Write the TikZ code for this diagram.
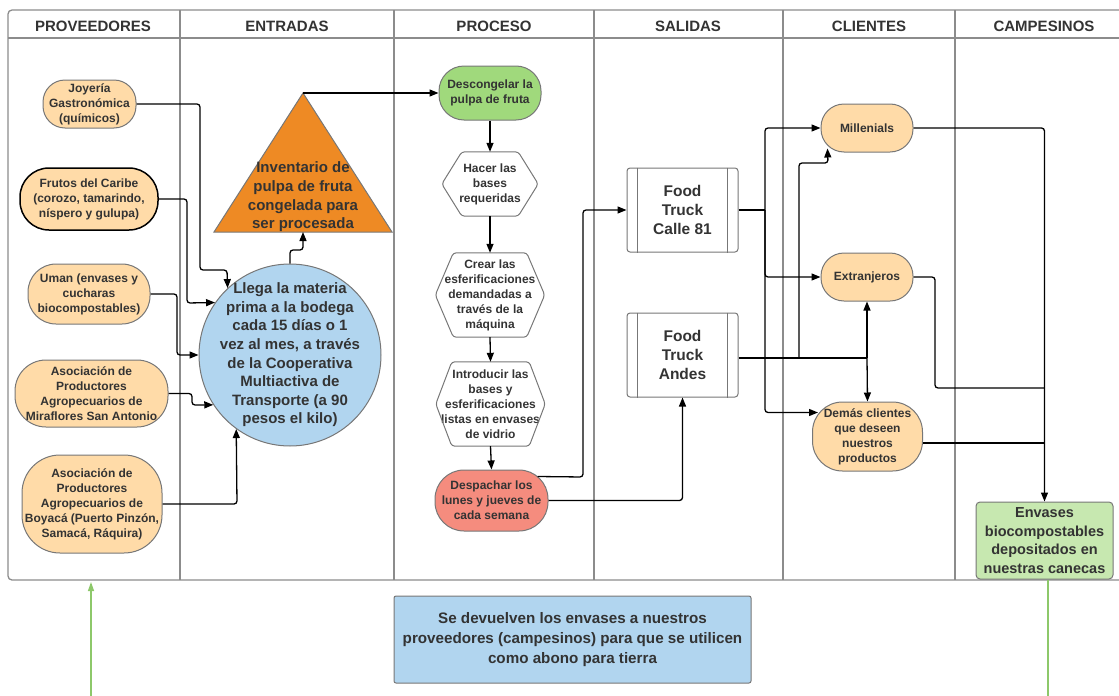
\documentclass[tikz,border=0pt]{standalone}
\usepackage{fontspec}
\setmainfont{Liberation Sans}
\usetikzlibrary{arrows.meta,calc}
\definecolor{txt}{HTML}{333333}
\definecolor{lanegray}{HTML}{8C8C8C}
\definecolor{bordgray}{HTML}{777777}
\definecolor{lorange}{HTML}{FFDBA8}
\definecolor{dorange}{HTML}{EE8A24}
\definecolor{lblue}{HTML}{B1D5EF}
\definecolor{dgreen}{HTML}{A0D97C}
\definecolor{lgreen}{HTML}{C7E8B0}
\definecolor{salmon}{HTML}{F58C7E}
\definecolor{gline}{HTML}{8DC86A}
\tikzset{
  lane/.style={draw=lanegray, line width=1.3pt},
  head/.style={font=\bfseries\fontsize{15}{16}\selectfont, text=txt},
  stad/.style={draw=bordgray, line width=1pt, fill=lorange, align=center,
    font=\bfseries\fontsize{12}{15}\selectfont, text=txt, inner sep=0pt},
  big/.style={align=center, font=\bfseries\fontsize{15}{18.6}\selectfont, text=txt, inner sep=0pt},
  hexbox/.style={align=center, font=\bfseries\fontsize{12}{15}\selectfont, text=txt, inner sep=0pt, draw=none},
  hexline/.style={draw=bordgray, line width=1pt, rounded corners=3pt},
  procbox/.style={draw=bordgray, line width=1pt, rounded corners=3pt, align=center,
    font=\bfseries\fontsize{15.5}{18.6}\selectfont, text=txt, inner sep=0pt,
    minimum width=111pt, minimum height=84pt},
  conn/.style={draw=black, line width=1.3pt, rounded corners=3pt, -{Triangle[length=9pt,width=7pt]}},
  plain/.style={draw=black, line width=1.3pt, rounded corners=3pt},
  garrow/.style={draw=gline, line width=1.3pt, -{Triangle[length=9pt,width=6pt]}},
}
\begin{document}
\begin{tikzpicture}[x=1pt,y=-1pt]
\useasboundingbox (0,0) rectangle (1119,696);
% swimlanes
\draw[lane, rounded corners=4pt] (1125,10) -- (8,10) -- (8,580) -- (1125,580);
\draw[lane] (8,38) -- (1125,38);
\foreach \xx in {180,394,594,783,955} \draw[lane] (\xx,10) -- (\xx,580);
\node[head] (h1) at (93,26) {PROVEEDORES};
\node[head] (h2) at (287,26) {ENTRADAS};
\node[head] (h3) at (494,26) {PROCESO};
\node[head] (h4) at (688,26) {SALIDAS};
\node[head] (h5) at (869,26) {CLIENTES};
\node[head] (h6) at (1044,26) {CAMPESINOS};

% proveedores
\node[stad, minimum width=93pt, minimum height=48pt, rounded corners=22pt] (joy) at (89.5,104) {Joyería\\Gastronómica\\(químicos)};
\node[stad, draw=black, line width=1.5pt, minimum width=138pt, minimum height=62pt, rounded corners=29pt] (fru) at (89,199) {Frutos del Caribe\\(corozo, tamarindo,\\níspero y gulupa)};
\node[stad, minimum width=122pt, minimum height=60pt, rounded corners=28pt] (uman) at (89,294) {Uman (envases y\\cucharas\\biocompostables)};
\node[stad, minimum width=153pt, minimum height=67pt, rounded corners=31pt] (mir) at (91.5,393.5) {Asociación de\\Productores\\Agropecuarios de\\Miraflores San Antonio};
\node[stad, minimum width=140pt, minimum height=98pt, rounded corners=38pt] (boy) at (92,504) {Asociación de\\Productores\\Agropecuarios de\\Boyacá (Puerto Pinzón,\\Samacá, Ráquira)};

% entradas
\draw[draw=bordgray, line width=1pt, fill=dorange] (303,93) -- (392,232) -- (214,232) -- cycle;
\coordinate (triapex) at (303,93);
\coordinate (tribase) at (303,232);
\node[big] (tri) at (303,197) {Inventario de\\pulpa de fruta\\congelada para\\ser procesada};
\node[circle, draw=bordgray, line width=1pt, fill=lblue, minimum size=182pt, inner sep=0pt] (circ) at (290,355) {};
\node[big] (circtext) at (290,355) {Llega la materia\\prima a la bodega\\cada 15 días o 1\\vez al mes, a través\\de la Cooperativa\\Multiactiva de\\Transporte (a 90\\pesos el kilo)};

% proceso
\node[stad, fill=dgreen, minimum width=102pt, minimum height=54pt, rounded corners=25pt] (desc) at (490,93) {Descongelar la\\pulpa de fruta};
\node[hexbox, minimum width=96pt, minimum height=64pt] (hacer) at (490,184) {Hacer las\\bases\\requeridas};
\draw[hexline] (hacer.west) -- ($(hacer.north west)+(20,0)$) -- ($(hacer.north east)+(-20,0)$) -- (hacer.east) -- ($(hacer.south east)+(-20,0)$) -- ($(hacer.south west)+(20,0)$) -- cycle;
\node[hexbox, minimum width=109pt, minimum height=84pt] (crear) at (490,295) {Crear las\\esferificaciones\\demandadas a\\través de la\\máquina};
\draw[hexline] (crear.west) -- ($(crear.north west)+(18,0)$) -- ($(crear.north east)+(-18,0)$) -- (crear.east) -- ($(crear.south east)+(-18,0)$) -- ($(crear.south west)+(18,0)$) -- cycle;
\node[hexbox, minimum width=109pt, minimum height=84pt] (intro) at (490.5,404) {Introducir las\\bases y\\esferificaciones\\listas en envases\\de vidrio};
\draw[hexline] (intro.west) -- ($(intro.north west)+(16,0)$) -- ($(intro.north east)+(-16,0)$) -- (intro.east) -- ($(intro.south east)+(-16,0)$) -- ($(intro.south west)+(16,0)$) -- cycle;
\node[stad, fill=salmon, minimum width=113pt, minimum height=61pt, rounded corners=29pt] (desp) at (491.5,500.5) {Despachar los\\lunes y jueves de\\cada semana};

% salidas
\node[procbox] (fc) at (682.5,210) {Food\\Truck\\Calle 81};
\draw[draw=bordgray, line width=1pt] ($(fc.north west)+(11,0)$) -- ($(fc.south west)+(11,0)$)
  ($(fc.north east)+(-11,0)$) -- ($(fc.south east)+(-11,0)$);
\node[procbox] (fa) at (682.5,355) {Food\\Truck\\Andes};
\draw[draw=bordgray, line width=1pt] ($(fa.north west)+(11,0)$) -- ($(fa.south west)+(11,0)$)
  ($(fa.north east)+(-11,0)$) -- ($(fa.south east)+(-11,0)$);

% clientes
\node[stad, minimum width=92pt, minimum height=48pt, rounded corners=23pt] (mil) at (867,128) {Millenials};
\node[stad, minimum width=92pt, minimum height=48pt, rounded corners=23pt] (ext) at (867,277) {Extranjeros};
\node[stad, minimum width=110pt, minimum height=69pt, rounded corners=30pt] (dem) at (867.5,436.5) {Demás clientes\\que deseen\\nuestros\\productos};

% campesinos
\node[draw=bordgray, line width=1pt, fill=lgreen, rounded corners=4pt, minimum width=137pt, minimum height=77pt, inner sep=0pt, align=center, font=\bfseries\fontsize{14.5}{18.7}\selectfont, text=txt] (env) at (1044.5,540.5) {Envases\\biocompostables\\depositados en\\nuestras canecas};

% nota
\node[draw=bordgray, line width=1pt, fill=lblue, rounded corners=2pt, minimum width=357pt, minimum height=87pt, inner sep=0pt, align=center, font=\bfseries\fontsize{15.2}{20}\selectfont, text=txt] (nota) at (572.5,639.5) {Se devuelven los envases a nuestros\\proveedores (campesinos) para que se utilicen\\como abono para tierra};

% green lines
\coordinate (gl0) at (91,696);
\coordinate (gl1) at (91,582);
\draw[garrow] (gl0) -- (gl1);
\coordinate (gr1) at (1048,696);
\draw[draw=gline, line width=1.3pt] (env.south -| gr1) -- (gr1);

% connectors proveedores -> circle
\draw[conn] (joy.east) -- (200,104) -- (200,270) -- (227,270) -- (circ.133.7);
\draw[conn] (fru.east) -- (187,199) -- (187,303) -- (circ.145.2);
\draw[conn] (uman.east) -- (177,294) -- (177,355) -- (circ.west);
\draw[conn] (mir.east) -- (192,393.5) -- (192,405) -- (circ.213.3);
\draw[conn] (boy.east) -- (237,504) -- (circ.234.4);
\draw[conn] (circ.north) -- (290,250) -- (303,250) -- (tribase);
\draw[conn] (triapex) -- (desc.west);

% proceso chain
\draw[conn] (desc.south) -- (hacer.north);
\draw[conn] (hacer.south) -- (crear.north);
\draw[conn] (crear.south) -- (intro.north);
\draw[conn] (intro.south) -- (desp.north);

% proceso -> salidas
\draw[conn] ($(desp.north east)+(-11,7)$) -- (583,477) -- (583,210) -- (fc.west);
\draw[conn] (desp.east) -| (fa.south);

% salidas -> clientes
\draw[plain] (fc.east) -- (765,210);
\draw[conn] (765,210) |- (mil.west);
\draw[conn] (765,210) |- (ext.west);
\draw[conn] (765,210) |- ($(dem.north west)+(6,11)$);
\draw[plain] ($(fa.east)+(0,3)$) -- (867,358);
\draw[conn] (799,358) -- (799,163) -- (828,163) -- ($(mil.south west)+(7,-4)$);
\draw[conn] (867,358) -- (ext.south);
\draw[conn] (867,358) -- (dem.north);

% clientes -> campesinos
\draw[conn] (mil.east) -| (env.north);
\draw[plain] (ext.east) -- (935,277) -- (935,388) -- (1044.5,388);
\draw[plain] ($(dem.east)+(0,6.5)$) -- (1044.5,443);
\end{tikzpicture}
\end{document}
